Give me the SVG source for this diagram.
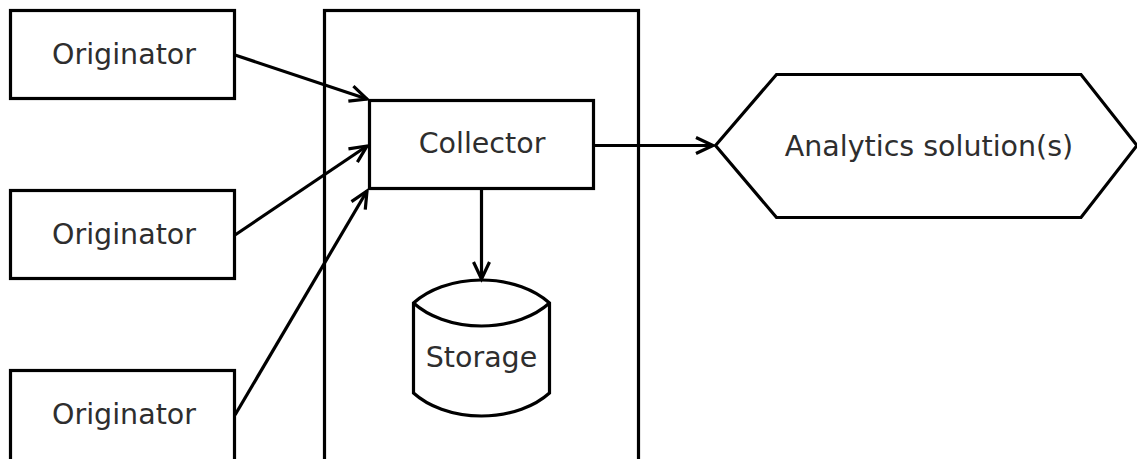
<svg xmlns="http://www.w3.org/2000/svg" width="1137" height="459" viewBox="0 0 1137 459">
  <style>
    .shape { fill: #ffffff; stroke: #000000; stroke-width: 3.2; }
    .frame { fill: none; stroke: #000000; stroke-width: 3.2; }
    .label { font-family: "DejaVu Sans", sans-serif; font-size: 28.5px; fill: #2e2e2e; text-anchor: middle; }
    .edge { fill: none; stroke: #000000; stroke-width: 3.2; }
  </style>
  <defs>
    <marker id="open-arrow" markerUnits="userSpaceOnUse" viewBox="-20 -12 24 24" refX="0" refY="0" markerWidth="24" markerHeight="24" orient="auto">
      <path d="M -17 -8 L 0 0 L -17 8" fill="none" stroke="#000000" stroke-width="3.2" stroke-linejoin="miter"/>
    </marker>
  </defs>
  <rect width="1137" height="459" fill="#ffffff"/>

  <!-- boundary around collector and storage -->
  <g id="collector-boundary">
    <rect class="frame" x="324.5" y="10.5" width="314" height="470"/>
  </g>

  <g id="originator-1">
    <rect class="shape" x="10.5" y="10.5" width="224" height="88"/>
    <text class="label" x="124" y="64">Originator</text>
  </g>
  <g id="originator-2">
    <rect class="shape" x="10.5" y="190.5" width="224" height="88"/>
    <text class="label" x="124" y="244">Originator</text>
  </g>
  <g id="originator-3">
    <rect class="shape" x="10.5" y="370.5" width="224" height="110"/>
    <text class="label" x="124" y="424">Originator</text>
  </g>

  <g id="collector">
    <rect class="shape" x="369.5" y="100.5" width="224" height="88"/>
    <text class="label" x="482" y="153">Collector</text>
  </g>

  <g id="storage">
    <path class="shape" d="M 413.5 303 A 85 57.5 0 0 1 549.5 303 L 549.5 393 A 85 57.5 0 0 1 413.5 393 Z"/>
    <path class="frame" d="M 413.5 303 A 85 57.5 0 0 0 549.5 303"/>
    <text class="label" x="481.5" y="367">Storage</text>
  </g>

  <g id="analytics">
    <path class="shape" d="M 715.5 145.5 L 776.5 74.5 L 1081 74.5 L 1137 145.5 L 1081 217.5 L 776.5 217.5 Z"/>
    <text class="label" x="929" y="156">Analytics solution(s)</text>
  </g>

  <g id="connectors">
    <line class="edge" x1="235" y1="55" x2="367" y2="99" marker-end="url(#open-arrow)"/>
    <line class="edge" x1="235" y1="235" x2="367" y2="146" marker-end="url(#open-arrow)"/>
    <line class="edge" x1="235" y1="415" x2="367" y2="191" marker-end="url(#open-arrow)"/>
    <line class="edge" x1="594" y1="145.5" x2="713" y2="145.5" marker-end="url(#open-arrow)"/>
    <line class="edge" x1="481.5" y1="189" x2="481.5" y2="279" marker-end="url(#open-arrow)"/>
  </g>
</svg>
